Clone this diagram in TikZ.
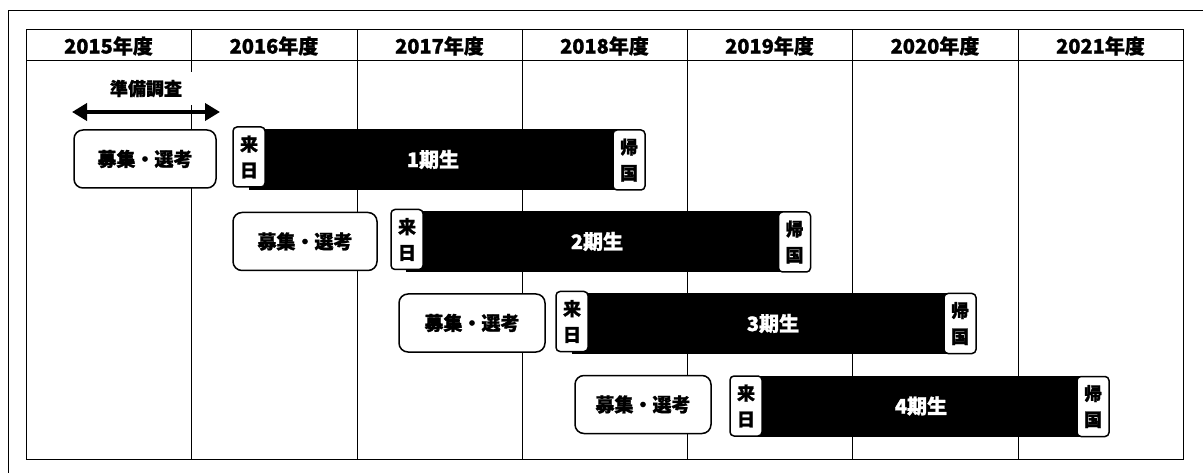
\documentclass[tikz,border=0pt]{standalone}
\usepackage{fontspec}
\setmainfont{Noto Sans CJK JP}[BoldFeatures={FakeBold=1.2}]
\usetikzlibrary{arrows.meta}
\begin{document}
\begin{tikzpicture}[x=1pt,y=-1pt,
  tline/.style={line width=1pt,draw=black},
  hdr/.style={font=\fontsize{20}{22}\selectfont\bfseries,inner sep=0pt},
  recruit/.style={draw=black,line width=1.5pt,rounded corners=9pt,fill=white,minimum width=142pt,minimum height=58pt,font=\fontsize{19}{21}\selectfont\bfseries,inner sep=0pt},
  tag/.style={draw=black,line width=1.5pt,rounded corners=4pt,fill=white,minimum width=32pt,minimum height=60pt,font=\fontsize{18}{26}\selectfont\bfseries,inner sep=0pt,align=center},
  bar/.style={fill=black,draw=none,minimum height=61pt,inner sep=0pt},
  bartext/.style={text=white,font=\fontsize{20}{22}\selectfont\bfseries,inner sep=0pt}]
\useasboundingbox (0,0) rectangle (1203,473);
% outer frame (clipped)
\draw[line width=1pt] (8,473) -- (8,11) -- (1203,11);
% table
\draw[tline] (26,30) rectangle (1183,459);
\draw[tline] (26,61) -- (1183,61);
\foreach \x in {191,357,522,687,852,1018}{\draw[tline] (\x,30) -- (\x,459);}
% headers
\node[hdr] (h15) at (108.5,46) {2015年度};
\node[hdr] (h16) at (274,46) {2016年度};
\node[hdr] (h17) at (439.5,46) {2017年度};
\node[hdr] (h18) at (604.5,46) {2018年度};
\node[hdr] (h19) at (769.5,46) {2019年度};
\node[hdr] (h20) at (935,46) {2020年度};
\node[hdr] (h21) at (1100.5,46) {2021年度};
% preparatory survey
\node[fill=white,minimum width=100pt,minimum height=33pt,inner sep=0pt,font=\fontsize{18}{20}\selectfont\bfseries] (prep) at (146,88.5) {準備調査};
\coordinate (pl) at (72,112);
\coordinate (pr) at (220,112);
\draw[line width=4pt,{Triangle[length=15pt,width=17pt]}-{Triangle[length=15pt,width=17pt]}] (pl) -- (pr);
% rows
\node[bar,minimum width=380pt] (b1) at (439,159.5) {};
\node[bar,minimum width=388pt] (b2) at (600,241.5) {};
\node[bar,minimum width=388pt] (b3) at (766,323.5) {};
\node[bar,minimum width=347pt] (b4) at (919.5,406) {};
\node[bartext] (t1) at (433,159.5) {1期生};
\node[bartext] (t2) at (597,241.5) {2期生};
\node[bartext] (t3) at (773,323.5) {3期生};
\node[bartext] (t4) at (921,406) {4期生};
\node[recruit] (r1) at (145,159) {募集・選考};
\node[recruit,minimum width=144pt] (r2) at (305,241.5) {募集・選考};
\node[recruit,minimum width=146pt] (r3) at (472,323) {募集・選考};
\node[recruit,minimum width=136pt] (r4) at (643,404.5) {募集・選考};
\node[tag] (a1) at (249,157) {来\\日};
\node[tag] (a2) at (407,239.5) {来\\日};
\node[tag] (a3) at (572,321.5) {来\\日};
\node[tag] (a4) at (746,406) {来\\日};
\node[tag] (k1) at (629,160) {帰\\国};
\node[tag] (k2) at (794.5,242) {帰\\国};
\node[tag] (k3) at (960,323.5) {帰\\国};
\node[tag] (k4) at (1093,406.5) {帰\\国};
\end{tikzpicture}
\end{document}
